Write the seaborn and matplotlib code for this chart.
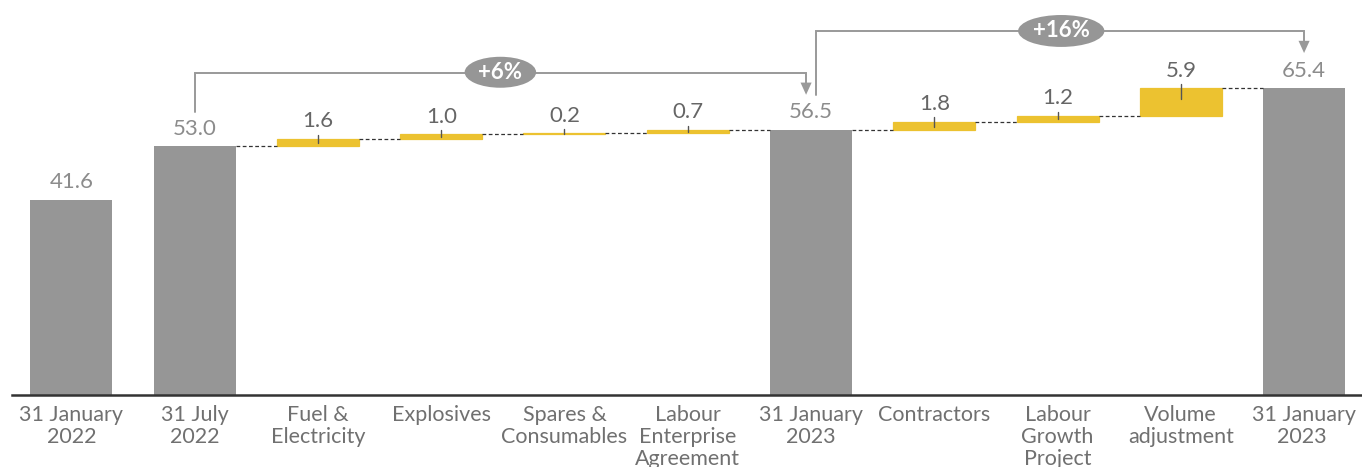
import matplotlib
matplotlib.use("Agg")
import matplotlib.pyplot as plt
from matplotlib.patches import Ellipse
import numpy as np
import pandas as pd
import seaborn as sns

# Cost per tonne bridge (values in $/t)
categories = [
    "31 January\n2022", "31 July\n2022", "Fuel &\nElectricity", "Explosives",
    "Spares &\nConsumables", "Labour\nEnterprise\nAgreement", "31 January\n2023",
    "Contractors", "Labour\nGrowth\nProject", "Volume\nadjustment", "31 January\n2023 ",
]
values = [41.6, 53.0, 1.6, 1.0, 0.2, 0.7, 56.5, 1.8, 1.2, 5.9, 65.4]
is_total = [True, True, False, False, False, False, True, False, False, False, True]
pct_labels = ["+6%", "+16%"]

GREY = "#969696"
YELLOW = "#ECC230"
TXT = "#707070"

sns.set_theme(style="white")
plt.rcParams["font.family"] = ["Lato", "DejaVu Sans"]

# running levels: bottom of each delta bar
bottoms, tops = [], []
level = 0.0
for v, t in zip(values, is_total):
    if t:
        bottoms.append(0.0)
        tops.append(v)
        level = v
    else:
        bottoms.append(level)
        level = level + v
        tops.append(level)

df = pd.DataFrame({"cat": categories, "val": values, "total": is_total,
                   "bottom": bottoms, "top": tops})
tot = df[df.total]
dlt = df[~df.total]

fig = plt.figure(figsize=(13.62, 4.67), dpi=100)
ax = fig.add_axes([0.009, 0.154, 0.991, 0.846])

W = 0.665
sns.barplot(data=tot, x="cat", y="val", order=categories, color=GREY,
            saturation=1, width=W, errorbar=None, ax=ax, linewidth=0)
sns.barplot(data=dlt, x="cat", y="val", order=categories, color=YELLOW,
            saturation=1, width=W, errorbar=None, ax=ax, linewidth=0.9,
            edgecolor=YELLOW, bottom=dlt["bottom"].to_numpy())

ax.set_xlim(-0.48, 10.47)
ax.set_ylim(0, 84.2)

# dashed connectors between consecutive bars (from the first half-year onward)
for i in range(1, len(values) - 1):
    lvl = tops[i]
    ax.plot([i + W / 2, i + 1 - W / 2], [lvl, lvl], ls=(0, (3, 2)),
            color="#333333", lw=0.9, zorder=1)

# value labels and leader ticks
for i, (v, t) in enumerate(zip(values, is_total)):
    top = tops[i]
    if t:
        ax.text(i, top + 1.6, f"{v:.1f}", ha="center", va="bottom",
                fontsize=16, color="#8c8c8c")
    else:
        ax.text(i, top + 1.6, f"{v:.1f}", ha="center", va="bottom",
                fontsize=16, color="#666666")
        ax.plot([i, i], [top + 0.9, top - min(v * 0.6, 2.4)],
                color="#555555", lw=1.0, zorder=4)

# growth brackets
LC = "#999999"
def bracket(x0, y0, x1, yh, ytip):
    ax.plot([x0, x0, x1, x1], [y0, yh, yh, ytip + 1.6], color=LC, lw=1.4,
            solid_joinstyle="miter", clip_on=False, zorder=2)
    ax.fill([x1 - 0.045, x1 + 0.045, x1], [ytip + 2.6, ytip + 2.6, ytip],
            color=LC, lw=0, clip_on=False, zorder=2)

bracket(1.0, 60.3, 5.96, 68.7, 64.0)
bracket(6.04, 64.0, 10.0, 77.6, 72.9)

for (cx, cy, w, h), lab in zip([(3.48, 68.8, 0.58, 6.6), (8.03, 77.6, 0.70, 6.8)], pct_labels):
    ax.add_patch(Ellipse((cx, cy), w, h, facecolor=GREY, edgecolor="none",
                         zorder=3, clip_on=False))
    ax.text(cx, cy, lab, ha="center", va="center", color="white",
            fontsize=16, fontweight="bold", zorder=4)

sns.despine(ax=ax, left=True, top=True, right=True)
ax.spines["bottom"].set_color("#333333")
ax.spines["bottom"].set_linewidth(1.8)
ax.set_yticks([])
ax.set_xlabel("")
ax.set_ylabel("")
ax.tick_params(axis="x", length=0, pad=7, labelsize=15.5, labelcolor=TXT)
for lbl in ax.get_xticklabels():
    lbl.set_linespacing(1.13)

fig.savefig("out.png", dpi=100)
